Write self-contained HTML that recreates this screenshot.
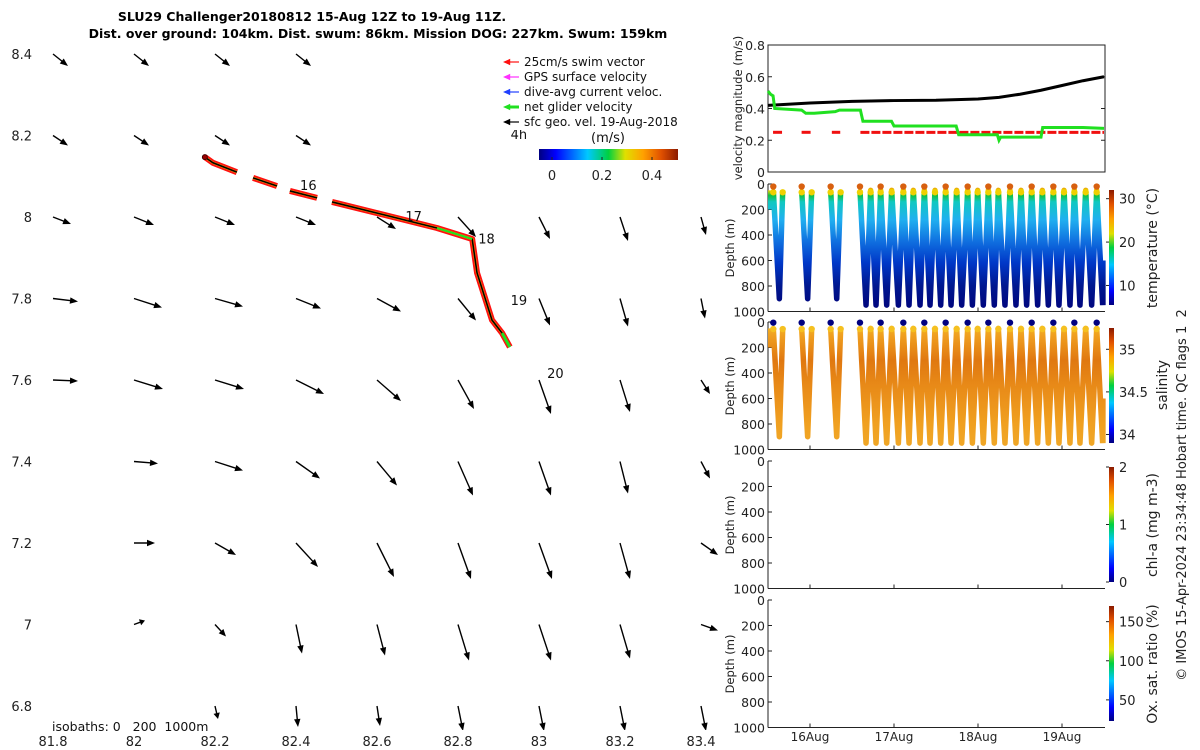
<!DOCTYPE html>
<html><head><meta charset="utf-8"><style>
html,body{margin:0;padding:0;background:#fff}
svg{display:block;font-family:"DejaVu Sans","Liberation Sans",sans-serif}
</style></head><body>
<svg id="s" width="1200" height="750" viewBox="0 0 1200 750">
<defs>
<linearGradient id="jetV" x1="0" y1="1" x2="0" y2="0">
<stop offset="0" stop-color="#00007f"/><stop offset="0.12" stop-color="#0000ff"/><stop offset="0.35" stop-color="#00c8ff"/><stop offset="0.5" stop-color="#00d040"/><stop offset="0.62" stop-color="#e0e000"/><stop offset="0.75" stop-color="#ffa000"/><stop offset="0.88" stop-color="#e05000"/><stop offset="1" stop-color="#8b1a00"/>
</linearGradient>
<linearGradient id="jetH" x1="0" y1="0" x2="1" y2="0">
<stop offset="0" stop-color="#00007f"/><stop offset="0.12" stop-color="#0000ff"/><stop offset="0.35" stop-color="#00c8ff"/><stop offset="0.5" stop-color="#00d040"/><stop offset="0.62" stop-color="#e0e000"/><stop offset="0.75" stop-color="#ffa000"/><stop offset="0.88" stop-color="#e05000"/><stop offset="1" stop-color="#8b1a00"/>
</linearGradient>
<linearGradient id="tempG" gradientUnits="userSpaceOnUse" x1="0" y1="184" x2="0" y2="311">
<stop offset="0" stop-color="#d86010"/><stop offset="0.05" stop-color="#f0d000"/><stop offset="0.09" stop-color="#10c040"/><stop offset="0.14" stop-color="#10c8c0"/><stop offset="0.28" stop-color="#20b0f0"/><stop offset="0.45" stop-color="#1070e0"/><stop offset="0.62" stop-color="#0038c8"/><stop offset="0.8" stop-color="#001890"/><stop offset="0.95" stop-color="#000880"/>
</linearGradient>
<linearGradient id="salG" gradientUnits="userSpaceOnUse" x1="0" y1="322" x2="0" y2="450">
<stop offset="0" stop-color="#f5c020"/><stop offset="0.1" stop-color="#f0a020"/><stop offset="0.3" stop-color="#e07810"/><stop offset="0.5" stop-color="#e88a18"/><stop offset="0.8" stop-color="#f0a020"/><stop offset="1" stop-color="#f0a828"/>
</linearGradient>
<clipPath id="mapClip"><rect x="40" y="40" width="680" height="690"/></clipPath>
</defs>
<g id="map"></g>
<g id="right"></g>
</svg>
<script>
const NS='http://www.w3.org/2000/svg';
function mk(tag,attrs,parent,txt){const e=document.createElementNS(NS,tag);for(const k in attrs)e.setAttribute(k,attrs[k]);if(txt!==undefined)e.textContent=txt;parent.appendChild(e);return e;}

// ---------- DATA ----------
const mapLonTicks=[81.8,82,82.2,82.4,82.6,82.8,83,83.2,83.4];
const mapLatTicks=[8.4,8.2,8,7.8,7.6,7.4,7.2,7,6.8];
const gridLons=[81.8,82,82.2,82.4,82.6,82.8,83,83.2,83.4];
const gridLats=[8.4,8.2,8.0,7.8,7.6,7.4,7.2,7.0,6.8];
const curU=[
[0.15,0.15,0.15,0.15,null,null,null,null,null],
[0.15,0.15,0.15,0.15,null,null,null,null,null],
[0.18,0.20,0.20,0.20,0.19,0.18,0.11,0.08,0.05],
[0.25,0.28,0.28,0.25,0.24,0.18,0.11,0.08,0.04],
[0.25,0.29,0.29,0.28,0.24,0.16,0.12,0.10,0.09],
[null,0.24,0.28,0.24,0.20,0.15,0.12,0.08,0.09],
[null,0.21,0.21,0.22,0.17,0.13,0.13,0.10,0.17],
[null,0.11,0.11,0.06,0.08,0.11,0.12,0.10,0.17],
[null,null,0.03,0.02,0.03,0.05,0.05,0.05,0.05]];
const curV=[
[-0.12,-0.12,-0.12,-0.12,null,null,null,null,null],
[-0.10,-0.10,-0.10,-0.10,null,null,null,null,null],
[-0.07,-0.08,-0.08,-0.08,-0.12,-0.20,-0.22,-0.24,-0.18],
[-0.03,-0.09,-0.08,-0.10,-0.13,-0.22,-0.27,-0.28,-0.20],
[-0.01,-0.09,-0.09,-0.14,-0.21,-0.29,-0.34,-0.32,-0.14],
[null,-0.02,-0.09,-0.17,-0.24,-0.34,-0.34,-0.32,-0.17],
[null,0.00,-0.12,-0.24,-0.34,-0.36,-0.36,-0.36,-0.12],
[null,0.04,-0.12,-0.29,-0.31,-0.36,-0.36,-0.34,-0.06],
[null,null,-0.13,-0.21,-0.20,-0.25,-0.25,-0.25,-0.25]];
const trackLon=[82.175,82.195,82.254,82.294,82.353,82.385,82.452,82.489,82.748,82.835,82.847,82.884,82.909,82.928];
const trackLat=[8.147,8.133,8.110,8.096,8.076,8.064,8.047,8.037,7.973,7.946,7.863,7.747,7.715,7.681];
const dayLabels=['16','17','18','19','20','4h'];
const dayLabelLon=[82.41,82.67,82.85,82.93,83.02,82.93];
const dayLabelLat=[8.066,7.990,7.935,7.784,7.605,8.191];

const velTicks=[0,0.2,0.4,0.6,0.8];
const dateTicks=[16,17,18,19];
const dateTickLabels=['16Aug','17Aug','18Aug','19Aug'];
const geoT=[15.5,16.0,16.5,17.0,17.5,18.0,18.25,18.5,18.75,19.0,19.25,19.5];
const geoV=[0.42,0.435,0.445,0.45,0.452,0.46,0.47,0.49,0.515,0.545,0.575,0.60];
const netT=[15.5,15.53,15.56,15.58,15.9,15.95,16.05,16.3,16.35,16.6,16.63,16.97,17.0,17.74,17.77,18.23,18.25,18.27,18.75,18.77,19.25,19.5];
const netV=[0.51,0.49,0.48,0.40,0.39,0.37,0.37,0.38,0.39,0.39,0.32,0.32,0.29,0.29,0.235,0.235,0.20,0.22,0.22,0.28,0.28,0.275];
const swimStart=[15.56,15.90,16.26,16.60];
const swimEnd=[15.68,16.02,16.36,19.50];
const swimV=0.25;

const diveT=[[15.563,15.635,15.675],[15.901,15.972,16.020],[16.246,16.318,16.365],
[16.595,16.667,16.722,16.786,16.841,16.913,16.972,17.052,17.111,17.179,17.230,17.310,17.361,17.429,17.488,17.556,17.615,17.679,17.746,17.806,17.877,17.933,17.996,18.063,18.123,18.194,18.242,18.321,18.381,18.452,18.512,18.579,18.639,18.710,18.766,18.837,18.897,18.964,19.024,19.095,19.147,19.214,19.282,19.353,19.413,19.484]];
const diveD=[[50,900,50],[50,900,50],[50,900,50],
[50,950,50,950,50,950,50,950,50,950,50,950,50,950,50,950,50,950,50,950,50,950,50,950,50,950,50,950,50,950,50,950,50,950,50,950,50,950,50,950,50,950,50,950,50,950]];
const depthTicks=[0,200,400,600,800,1000];
const tempTicks=[10,20,30]; const tempRange=[5.5,32];
const salTicks=[34,34.5,35]; const salTickLabels=['34','34.5','35']; const salRange=[33.9,35.25];
const chlTicks=[0,1,2]; const chlRange=[0,2];
const oxTicks=[50,100,150]; const oxRange=[23,170];

// ---------- MAP ----------
const map=document.getElementById('map');
const lonX=l=>53+(l-81.8)*405;
const latY=l=>54+(8.4-l)*407.5;
mapLonTicks.forEach(l=>{const t=mk('text',{x:lonX(l),y:746,'text-anchor':'middle','font-size':13,fill:'#222'},map,String(l));
});
mapLatTicks.forEach(l=>{const t=mk('text',{x:32,y:latY(l)+5,'text-anchor':'end','font-size':13,fill:'#222'},map,String(l));
});
const vg=mk('g',{'clip-path':'url(#mapClip)'},map);

function arrow(g,x0,y0,x1,y1,col,w){
  const dx=x1-x0,dy=y1-y0,L=Math.hypot(dx,dy)||1,ux=dx/L,uy=dy/L,h=Math.min(8,L*0.45),hw=3.2;
  mk('line',{x1:x0,y1:y0,x2:x1-ux*h*0.6,y2:y1-uy*h*0.6,stroke:col,'stroke-width':w},g);
  mk('polygon',{points:`${x1},${y1} ${x1-ux*h-uy*hw},${y1-uy*h+ux*hw} ${x1-ux*h+uy*hw},${y1-uy*h-ux*hw}`,fill:col},g);
}
gridLats.forEach((la,r)=>gridLons.forEach((lo,c)=>{
  const u=curU[r][c],v=curV[r][c]; if(u===null)return;
  const g=mk('g',{},vg);
  
  
  arrow(g,lonX(lo),latY(la),lonX(lo)+u*100,latY(la)-v*100,'#000',1.4);
}));
const pts=trackLon.map((l,i)=>lonX(l)+','+latY(trackLat[i]));
const segs=[[0,2],[3,4],[5,6],[7,13]];
segs.forEach(s=>{const p=pts.slice(s[0],s[1]+1).join(' ');
  const r=mk('polyline',{points:p,fill:'none',stroke:'#ff1010','stroke-width':6,'stroke-linejoin':'round'},map);
  
  const o=mk('polyline',{points:p,fill:'none',stroke:'#f0a000','stroke-width':2.5,'stroke-linejoin':'round'},map);
  
  const b=mk('polyline',{points:p,fill:'none',stroke:'#000','stroke-width':1.6},map);
  
});
const gs=mk('polyline',{points:pts.slice(8,10).join(' '),fill:'none',stroke:'#20e020','stroke-width':2},map);

const ge=mk('polyline',{points:pts.slice(12,14).join(' '),fill:'none',stroke:'#20e020','stroke-width':3},map);

const sd=mk('circle',{cx:lonX(trackLon[0]),cy:latY(trackLat[0]),r:2.5,fill:'#900',stroke:'#400'},map);

dayLabels.forEach((d,i)=>{const t=mk('text',{x:lonX(dayLabelLon[i]),y:latY(dayLabelLat[i]),'font-size':13,fill:'#111'},map,d);
});
const iso=mk('text',{x:52,y:731,'font-size':12.5,fill:'#111'},map,'isobaths: 0\u00a0\u00a0\u00a0200\u00a0\u00a01000m');

const t1=mk('text',{x:312,y:21,'text-anchor':'middle','font-size':12.5,'font-weight':'bold',fill:'#000'},map,'SLU29 Challenger20180812 15-Aug 12Z to 19-Aug 11Z.');

const t2=mk('text',{x:378,y:38,'text-anchor':'middle','font-size':12.5,'font-weight':'bold',fill:'#000'},map,'Dist. over ground: 104km. Dist. swum: 86km. Mission DOG: 227km. Swum: 159km');

const legTxt=['25cm/s swim vector','GPS surface velocity','dive-avg current veloc.','net glider velocity','sfc geo. vel. 19-Aug-2018'];
const legCol=['#ff1010','#ff30ff','#2040ff','#20e020','#000'];
const lg=mk('g',{},map);
mk('rect',{x:498,y:52,width:185,height:78,fill:'#fff'},lg);
legTxt.forEach((s,i)=>{const y=62+i*15;const e=mk('g',{},lg);

arrow(e,519,y,503,y,legCol[i],i==3?3:1.2);
mk('text',{x:524,y:y+4,'font-size':12,fill:'#111'},e,s);});
const cbh=mk('g',{},map);
mk('text',{x:608,y:142,'text-anchor':'middle','font-size':13,fill:'#111'},cbh,'(m/s)');
mk('rect',{x:539,y:149,width:139,height:11,fill:'url(#jetH)'},cbh);
[['0',552],['0.2',602],['0.4',652]].forEach(a=>{mk('line',{x1:a[1],y1:160,x2:a[1],y2:157,stroke:'#222'},cbh);mk('text',{x:a[1],y:180,'text-anchor':'middle','font-size':13,fill:'#222'},cbh,a[0]);});

// ---------- RIGHT PANELS ----------
const R=document.getElementById('right');
const X0=768,X1=1105;
const tX=d=>X0+(d-15.5)*84;
const vY=v=>172-(v/0.8)*127;
const vp=mk('g',{},R);
mk('rect',{x:X0,y:45,width:X1-X0,height:127,fill:'none',stroke:'#222','stroke-width':1},vp);
velTicks.forEach(v=>{mk('line',{x1:X0,y1:vY(v),x2:X0+4,y2:vY(v),stroke:'#222'},vp);mk('line',{x1:X1,y1:vY(v),x2:X1-4,y2:vY(v),stroke:'#222'},vp);
mk('text',{x:X0-3,y:vY(v)+5,'text-anchor':'end','font-size':12.5,fill:'#222'},vp,String(v));});
mk('text',{transform:`translate(742,108) rotate(-90)`,'text-anchor':'middle','font-size':11.5,fill:'#222'},vp,'velocity magnitude (m/s)');
swimStart.forEach((s,i)=>{const l=mk('line',{x1:tX(s),y1:vY(swimV),x2:tX(swimEnd[i]),y2:vY(swimV),stroke:'#f01010','stroke-width':3,'stroke-dasharray':'9 2'},vp);
});
const gl=mk('polyline',{points:geoT.map((t,i)=>tX(t)+','+vY(geoV[i])).join(' '),fill:'none',stroke:'#000','stroke-width':3},vp);

const nl=mk('polyline',{points:netT.map((t,i)=>tX(t)+','+vY(netV[i])).join(' '),fill:'none',stroke:'#20e020','stroke-width':3},vp);


function depthPanel(name,top,fill,cbTicks,cbLabels,cbRange,cbTitle,dots){
  const g=mk('g',{},R);
  
  
  const dY=d=>top+d/1000*127.5;
  mk('line',{x1:X0,y1:top,x2:X0,y2:top+127.5,stroke:'#222'},g);
  mk('line',{x1:X0,y1:top+127.5,x2:X1,y2:top+127.5,stroke:'#222'},g);
  depthTicks.forEach(d=>{mk('line',{x1:X0,y1:dY(d),x2:X0+4,y2:dY(d),stroke:'#222'},g);
    mk('text',{x:X0-3,y:dY(d)+5,'text-anchor':'end','font-size':12.5,fill:'#222'},g,String(d));});
  dateTicks.forEach(d=>mk('line',{x1:tX(d),y1:top+127.5,x2:tX(d),y2:top+123.5,stroke:'#222'},g));
  mk('text',{transform:`translate(734,${top+64}) rotate(-90)`,'text-anchor':'middle','font-size':11.5,fill:'#222'},g,'Depth (m)');
  if(fill){
    diveT.forEach((ts,k)=>{const p=mk('polyline',{points:ts.map((t,i)=>tX(t)+','+dY(diveD[k][i])).join(' '),fill:'none',stroke:fill,'stroke-width':5.5,'stroke-linejoin':'round'},g);
      });
    mk('line',{x1:tX(15.53),y1:dY(50),x2:tX(15.53),y2:dY(200),stroke:fill,'stroke-width':5},g);
    mk('line',{x1:tX(19.49),y1:dY(600),x2:tX(19.49),y2:dY(950),stroke:fill,'stroke-width':5},g);
    diveT.forEach((ts,k)=>ts.forEach((t,i)=>{if(diveD[k][i]>100)return;
      const c=mk('circle',{cx:tX(t),cy:dY(dots.d),r:3.2,fill:dots.c},g);
      
      if(dots.c2&&i%4==0){mk('circle',{cx:tX(t),cy:dY(dots.d2),r:3.2,fill:dots.c2},g);}
    }));
  }
  const cx=1109,ch=115,cy0=top+6;
  const cb=mk('g',{},g);
  mk('rect',{x:cx,y:cy0,width:5,height:ch,fill:'url(#jetV)'},cb);
  const cY=v=>cy0+ch-(v-cbRange[0])/(cbRange[1]-cbRange[0])*ch;
  cbTicks.forEach((v,i)=>{mk('line',{x1:cx,y1:cY(v),x2:cx-3,y2:cY(v),stroke:'#222'},cb);
    mk('text',{x:1119,y:cY(v)+5,'font-size':13,fill:'#222'},cb,cbLabels[i]);});
  mk('text',{transform:`translate(1157,${top+64}) rotate(-90)`,'text-anchor':'middle','font-size':14,fill:'#222'},cb,cbTitle);
  return g;
}
depthPanel('temperature-panel',184,'url(#tempG)',tempTicks,tempTicks.map(String),tempRange,'temperature (°C)',{d:65,c:'#f0d000',c2:'#d86010',d2:20});
depthPanel('salinity-panel',322,'url(#salG)',salTicks,salTickLabels,salRange,'',{d:55,c:'#f5c020',c2:'#00007f',d2:5});
const salT=mk('text',{transform:'translate(1167,385) rotate(-90)','text-anchor':'middle','font-size':14,fill:'#222'},R,'salinity');

depthPanel('chlorophyll-panel',461,null,chlTicks,chlTicks.map(String),chlRange,'chl-a (mg m-3)');
depthPanel('oxygen-panel',600,null,oxTicks,oxTicks.map(String),oxRange,'Ox. sat. ratio (%)');
dateTicks.forEach((d,i)=>{const t=mk('text',{x:tX(d),y:741,'text-anchor':'middle','font-size':12,fill:'#222'},R,dateTickLabels[i]);
});
const cr=mk('text',{transform:'translate(1186,495) rotate(-90)','text-anchor':'middle','font-size':13,fill:'#222'},R,'© IMOS 15-Apr-2024 23:34:48 Hobart time. QC flags 1\u00a0\u00a02');

</script>
</body></html>
